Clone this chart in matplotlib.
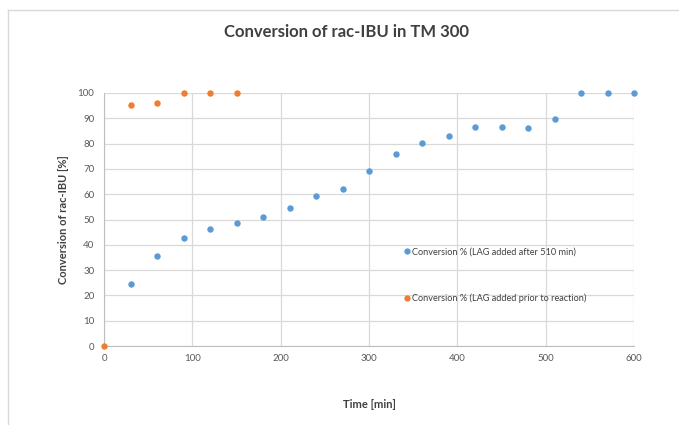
import matplotlib
matplotlib.use("Agg")
import matplotlib.pyplot as plt
from matplotlib.lines import Line2D

plt.rcParams['font.family'] = ['Lato', 'DejaVu Sans']

# blue series: LAG added after 510 min
time_after = [30, 60, 90, 120, 150, 180, 210, 240, 270, 300,
              330, 360, 390, 420, 450, 480, 510, 540, 570, 600]
conv_after = [24.4, 35.7, 42.6, 46.2, 48.5, 51.1, 54.5, 59.3, 61.9, 69.3,
              75.8, 80.3, 82.9, 86.6, 86.6, 86.1, 89.9, 100, 100, 100]

# orange series: LAG added prior to reaction
time_prior = [0, 30, 60, 90, 120, 150]
conv_prior = [0, 95.1, 96.2, 100, 100, 100]

blue = "#5B9BD5"
orange = "#ED7D31"
label_after = "Conversion % (LAG added after 510 min)"
label_prior = "Conversion % (LAG added prior to reaction)"

fig = plt.figure(figsize=(6.79, 4.25), dpi=100)
ax = fig.add_axes([104 / 679, 1 - 346 / 425, 530 / 679, 253 / 425])

ax.scatter(time_after, conv_after, s=13, color=blue, zorder=3, clip_on=False)
ax.scatter(time_prior, conv_prior, s=13, color=orange, zorder=3, clip_on=False)

ax.set_xlim(0, 600)
ax.set_ylim(0, 100)
ax.set_xticks(range(0, 601, 100))
ax.set_yticks(range(0, 101, 10))
ax.grid(True, color="#D9D9D9", linewidth=0.9)
ax.set_axisbelow(True)
for side in ["top", "right"]:
    ax.spines[side].set_visible(False)
for side in ["left", "bottom"]:
    ax.spines[side].set_color("#BFBFBF")
ax.tick_params(length=0, labelsize=7, colors="#595959")
ax.tick_params(axis="y", pad=7)
ax.tick_params(axis="x", pad=6)

ax.set_xlabel("Time [min]", fontsize=8, fontweight="bold", color="#404040", labelpad=26)
ax.set_ylabel("Conversion of rac-IBU [%]", fontsize=8, fontweight="bold", color="#404040", labelpad=6)
fig.text(0.51, 0.925, "Conversion of rac-IBU in TM 300", ha="center", va="center",
         fontsize=12, fontweight="bold", color="#404040")

handles = [Line2D([], [], marker="o", linestyle="", color=blue, markersize=3.5),
           Line2D([], [], marker="o", linestyle="", color=orange, markersize=3.5)]
ax.legend(handles, [label_after, label_prior], loc="center left",
          bbox_to_anchor=(0.56, 0.279), frameon=False, fontsize=6.6,
          labelspacing=4.1, handlelength=0.4, handletextpad=0.3,
          borderpad=0, labelcolor="#404040")

# outer chart border (only top and left visible in the crop)
fig.add_artist(Line2D([8 / 679, 8 / 679], [0, 1 - 10 / 425], color="#D9D9D9", linewidth=1))
fig.add_artist(Line2D([8 / 679, 1], [1 - 10 / 425, 1 - 10 / 425], color="#D9D9D9", linewidth=1))

fig.savefig("out.png", dpi=100)
